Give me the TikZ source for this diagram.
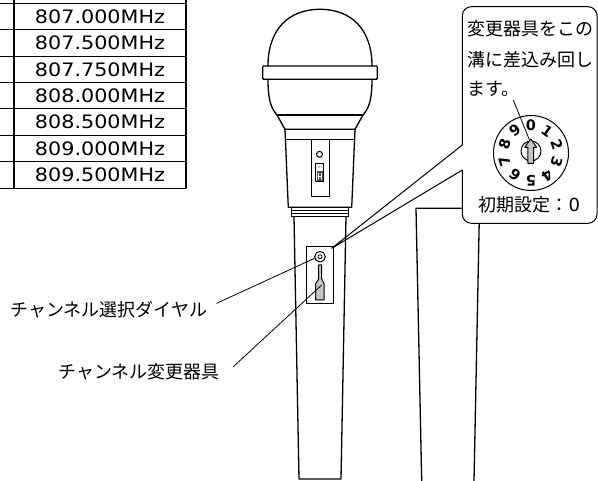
\documentclass[tikz,border=0pt]{standalone}
\usepackage{fontspec}
\setmainfont{Noto Sans CJK JP}
\newfontfamily\numfont{DejaVu Sans}[FakeStretch=1.12]
\newfontfamily\dialfont{DejaVu Sans}
\usetikzlibrary{calc}
\begin{document}
\begin{tikzpicture}[x=1pt,y=-1pt,line join=round,line cap=round,
  outl/.style={line width=1.3pt,black},
  med/.style={line width=1pt,black},
  lead/.style={line width=0.8pt,black},
  tbl/.style={line width=1.1pt,black},
  jp/.style={font=\fontsize{18}{18}\selectfont,inner sep=0pt,anchor=west},
  freq/.style={font=\numfont\fontsize{18.5}{18.5}\selectfont,inner sep=0pt},
  dnum/.style={font=\dialfont\bfseries\fontsize{14.5}{14.5}\selectfont,inner sep=0pt}]
\useasboundingbox (0,0) rectangle (598,481);
% ---------- table ----------
\foreach \i in {0,...,7}
  \draw[tbl] (0,{3.3+26.4*\i}) -- (186,{3.3+26.4*\i});
\draw[tbl] (14,0) -- (14,188.1);
\draw[tbl] (186,0) -- (186,188.1);
\foreach \f [count=\i] in {807.000,807.500,807.750,808.000,808.500,809.000,809.500}
  \node[freq] (f\i) at (100,{3.3+26.4*(\i-0.5)}) {\f MHz};
% ---------- stand (right) ----------
\draw[outl] (421.7,481) -- (416,208.3) -- (479.5,208.3) -- (474,481);
% ---------- microphone ----------
\draw[outl] (268,66) .. controls (268,30) and (288,9.3) .. (320,9.3)
  .. controls (352,9.3) and (372,30) .. (372,66);
\draw[outl,rounded corners=1pt] (262.7,66) rectangle (377.3,79.3);
\draw[outl] (268,79.3) .. controls (268,100) and (271,108) .. (277,115)
  -- (285,129.3) -- (355,129.3) -- (363,115)
  .. controls (369,108) and (372,100) .. (372,79.3);
\draw[outl] (277,115) -- (363,115);
\draw[outl] (285,129.3) -- (288.3,207.3) -- (351.7,207.3) -- (355,129.3);
\draw[outl] (285.4,139.3) -- (354.6,139.3);
\draw[med] (311.3,139.3) rectangle (329,196.7);
\draw[med] (319.5,154.3) circle (3);
\draw[med] (315.7,163.3) rectangle (323.3,181.7);
\fill[gray!60!black] (316.5,171.5) rectangle (322.5,181);
\draw[white,line width=0.5pt] (317.8,173) -- (317.8,179.5) (321.2,173) -- (321.2,179.5) (317.8,176.2) -- (321.2,176.2);
\node[font=\dialfont\fontsize{3.2}{3.2}\selectfont,inner sep=0pt,text=gray] (off) at (319.5,167.5) {OFF};
\draw[outl] (291.7,207.3) rectangle (348.3,216.7);
\draw[med] (291.7,210.4) -- (348.3,210.4) (291.7,213.5) -- (348.3,213.5);
\draw[outl] (294,216.7) -- (299,479) -- (341,479) -- (346,216.7);
\draw[med] (306,246.7) rectangle (333.3,304);
\draw[med] (320,256.7) circle (5.3);
\draw[lead] (320,256.7) circle (2);
\draw[med,fill=gray!45] (318.7,265) -- (321.7,265) -- (321.7,279) -- (324,283.5)
  -- (324,300) -- (315.7,300) -- (315.7,283.5) -- (318.7,279) -- cycle;
% ---------- labels ----------
\node[jp] (sel) at (10,310) {チャンネル選択ダイヤル};
\node[jp] (tool) at (58.3,372) {チャンネル変更器具};
\coordinate (selS) at (216.7,303.3);
\coordinate (selE) at (314.5,258.3);
\coordinate (toolS) at (233.3,366.7);
\coordinate (toolE) at (321.7,285);
\draw[lead] (selS) -- (selE);
\draw[lead] (toolS) -- (toolE);
% ---------- callout ----------
\coordinate (tip) at (331.7,248.3);
\fill[white,rounded corners=9pt] (462.3,6.7) rectangle (597,223.3);
\draw[med] (tip) -- (462.3,170) [rounded corners=9pt] -- (462.3,223.3) -- (597,223.3)
  -- (597,6.7) -- (462.3,6.7) [sharp corners] -- (462.3,145) -- (tip);
\node[jp] (t1) at (467.5,28.3) {変更器具をこの};
\node[jp] (t2) at (467.5,60) {溝に差込み回し};
\node[jp] (t3) at (467.5,89) {ます。};
\node[jp] (init) at (478.3,205) {初期設定：{\dialfont 0}};
% dial
\coordinate (dc) at (531,153);
\draw[med] (dc) circle (37.5);
\draw[med] (531,151) circle (10);
\foreach \i in {0,...,9}
  \node[dnum,rotate={-36*\i}] (d\i) at ({531+27.5*sin(36*\i)},{153-27.5*cos(36*\i)}) {\i};
\draw[med,fill=gray!45] (530.7,139) -- (536.7,147.3) -- (533.5,147.3) -- (533.5,163.3)
  -- (527.9,163.3) -- (527.9,147.3) -- (524.7,147.3) -- cycle;
\coordinate (masuS) at (513.3,100);
\coordinate (arrT) at (529.5,140);
\draw[lead] (masuS) -- (arrT);
\end{tikzpicture}
\end{document}
